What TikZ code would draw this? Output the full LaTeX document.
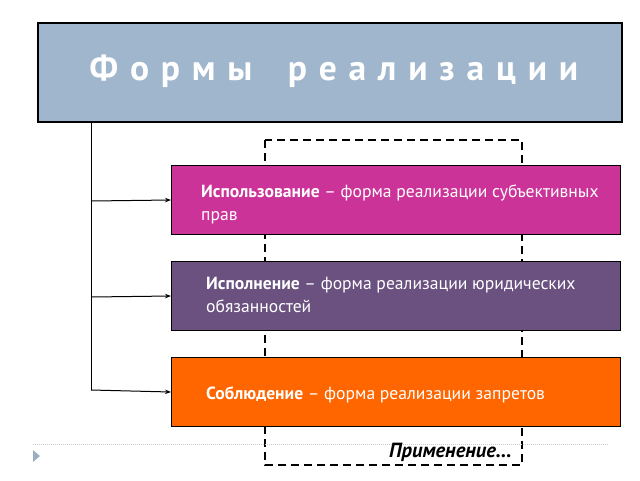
\documentclass[tikz,border=0pt]{standalone}
\usepackage{fontspec}
\setmainfont{PT Sans}
\usetikzlibrary{arrows.meta}
\definecolor{titlebg}{HTML}{A0B6CC}
\definecolor{magbox}{HTML}{CC3399}
\definecolor{purpbox}{HTML}{6A5180}
\definecolor{orbox}{HTML}{FF6600}
\definecolor{dotgrey}{HTML}{C8CDD2}
\definecolor{trigrey}{HTML}{9AAFC2}
\tikzset{
  formbox/.style={draw=black, line width=1pt, minimum width=449pt, minimum height=69pt, anchor=north west, inner sep=0pt},
  formtext/.style={text=white, font=\fontsize{17.6}{23}\selectfont, align=left, anchor=west, inner sep=0pt},
  link/.style={line width=1pt, -{Stealth[length=6pt,width=4.5pt]}},
  dashframe/.style={line width=2.4pt, dash pattern=on 8pt off 5pt}
}
\begin{document}
\begin{tikzpicture}[x=1pt,y=-1pt]
\useasboundingbox (0,0) rectangle (640,480);
% dashed frame behind boxes
\draw[dashframe] (265,140) rectangle (522,465);
% title
\node[draw=black, line width=1.8pt, fill=titlebg, minimum width=584pt, minimum height=99pt, anchor=north west, inner sep=0pt] (title) at (37,22) {};
\node[text=white, font=\fontsize{35.5}{38}\selectfont\bfseries, inner sep=0pt] (ttext) at (334,71) {Ф\,\,о\,\,р\,\,м\,\,ы\quad р\,\,е\,\,а\,\,л\,\,и\,\,з\,\,а\,\,ц\,\,и\,\,и};
% boxes
\node[formbox, fill=magbox] (b1) at (171,165) {};
\node[formbox, fill=purpbox] (b2) at (171,261) {};
\node[formbox, fill=orbox] (b3) at (171,357) {};
\node[formtext] (t1) at (201,204) {\textbf{Использование} – форма реализации субъективных\\прав};
\node[formtext] (t2) at (206,295) {\textbf{Исполнение} – форма реализации юридических\\обязанностей};
\node[formtext] (t3) at (206,395) {\textbf{Соблюдение} – форма реализации запретов};
% connectors
\coordinate (top) at (91,122);
\draw[line width=1pt] (top) -- (91,390);
\draw[link] (91,201) -- (b1.west);
\draw[link] (91,297) -- (b2.west);
\draw[link] (91,390) -- (b3.west);
% dotted line and triangle
\draw[dotgrey, line width=0.6pt, dash pattern=on 1pt off 1pt] (33,444) -- (608,444);
\fill[trigrey] (33,450) -- (40,456) -- (33,462) -- cycle;
% label
\node[anchor=east, font=\fontsize{20.5}{22}\selectfont\bfseries\itshape, inner sep=0pt] (appl) at (512,452) {Применение…};
\end{tikzpicture}
\end{document}
